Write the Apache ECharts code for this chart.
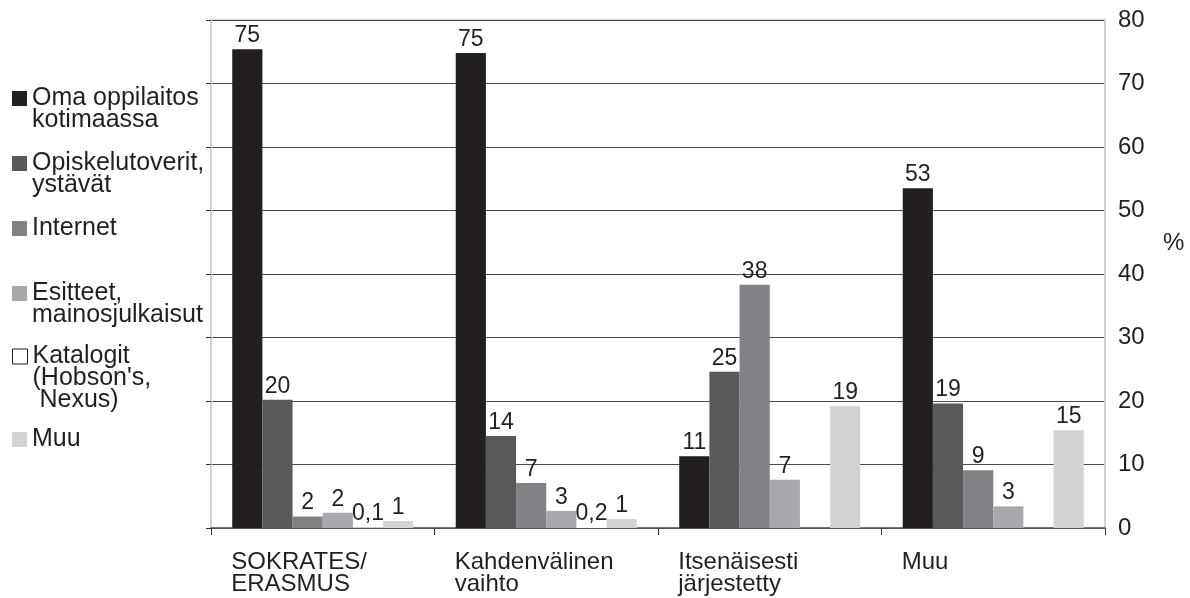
<!DOCTYPE html>
<html>
<head>
<meta charset="utf-8">
<script src="https://cdn.jsdelivr.net/npm/echarts@6/dist/echarts.min.js"></script>
<style>
html,body{margin:0;padding:0;background:#fff;}
#chart{width:1190px;height:598px;}
</style>
</head>
<body>
<div id="chart"></div>
<script>
// ---- data ----
const categories = ['SOKRATES/\nERASMUS', 'Kahdenvälinen\nvaihto', 'Itsenäisesti\njärjestetty', 'Muu'];
const seriesNames = ['Oma oppilaitos\nkotimaassa', 'Opiskelutoverit,\nystävät', 'Internet', 'Esitteet,\nmainosjulkaisut', "Katalogit\n(Hobson's,\n Nexus)", 'Muu'];
const omaOppilaitos   = [75.4, 74.8, 11.3, 53.5];
const opiskelutoverit = [20.2, 14.5, 24.6, 19.6];
const internet        = [1.8, 7.1, 38.3, 9.1];
const esitteet        = [2.4, 2.7, 7.6, 3.4];
const katalogit       = [0.1, 0.2, null, null];
const muu             = [1.1, 1.4, 19.2, 15.4];
const omaLabels   = ['75', '75', '11', '53'];
const opisLabels  = ['20', '14', '25', '19'];
const intLabels   = ['2', '7', '38', '9'];
const esiLabels   = ['2', '3', '7', '3'];
const katLabels   = ['0,1', '0,2', '', ''];
const muuLabels   = ['1', '1', '19', '15'];
const yTicks = [0, 10, 20, 30, 40, 50, 60, 70, 80];

const values = [omaOppilaitos, opiskelutoverit, internet, esitteet, katalogit, muu];
const labels = [omaLabels, opisLabels, intLabels, esiLabels, katLabels, muuLabels];
const colors = ['#231f20', '#58595b', '#808285', '#a7a9ac', '#ffffff', '#d1d3d4'];
const legendCenters = [97, 162, 227, 292, 355, 438];

const FONT = "'Liberation Sans', Arial, sans-serif";
const FS = 24;
const LFS = 25;
const LH = 22;
const SQ = 15;

const chart = echarts.init(document.getElementById('chart'));

const legends = seriesNames.map((name, i) => {
  const n = name.split('\n').length;
  const H = (n - 1) * LH + SQ;
  const icon = n === 1 ? 'rect'
    : 'path://M0,0L' + SQ + ',0L' + SQ + ',' + SQ + 'L0,' + SQ + 'Z M0,' + H;
  return {
    left: 12,
    top: legendCenters[i] - LH / 2,
    orient: 'vertical',
    padding: 0,
    itemWidth: SQ,
    itemHeight: H,
    icon: icon,
    itemStyle: i === 4
      ? { color: '#ffffff', borderColor: '#231f20', borderWidth: 1 }
      : { color: colors[i], borderWidth: 0 },
    selectedMode: false,
    data: [name],
    textStyle: {
      fontFamily: FONT,
      fontSize: LFS,
      lineHeight: LH,
      color: '#231f20'
    }
  };
});

const series = seriesNames.map((name, i) => ({
  name: name,
  type: 'bar',
  yAxisIndex: 0,
  barGap: '0%',
  barCategoryGap: '19%',
  data: values[i],
  itemStyle: { color: colors[i] },
  label: {
    show: true,
    position: 'top',
    distance: 2,
    fontFamily: FONT,
    fontSize: 23,
    color: '#231f20',
    formatter: (p) => labels[i][p.dataIndex]
  }
}));

const option = {
  animation: false,
  backgroundColor: '#ffffff',
  legend: legends,
  grid: {
    left: 211, right: 85, top: 20, bottom: 70,
    show: true, borderColor: '#d2d2d2', borderWidth: 2
  },
  xAxis: {
    type: 'category',
    data: categories,
    axisLine: { lineStyle: { color: '#555555', width: 1.5 } },
    axisTick: { show: true, length: 7, lineStyle: { color: '#333333' } },
    axisLabel: {
      interval: 0,
      margin: 23,
      formatter: (v) => v.split('\n').map(s => '{a|' + s + '}').join('\n'),
      rich: {
        a: { width: 183, align: 'left', fontFamily: FONT, fontSize: FS, lineHeight: LH, color: '#231f20' }
      }
    }
  },
  yAxis: [
    {
      type: 'value', position: 'left', min: yTicks[0], max: yTicks[yTicks.length - 1], interval: 10,
      axisLine: { show: true, lineStyle: { color: '#d2d2d2', width: 2 } },
      axisTick: { show: true, length: 5, lineStyle: { color: '#333333' } },
      axisLabel: { show: false },
      splitLine: { show: true, lineStyle: { color: '#4a4a4a', width: 1.2 } }
    },
    {
      type: 'value', position: 'right', min: yTicks[0], max: yTicks[yTicks.length - 1], interval: 10,
      name: '%', nameLocation: 'middle', nameRotate: 0, nameGap: 58,
      nameTextStyle: { fontFamily: FONT, fontSize: FS, color: '#231f20', verticalAlign: 'bottom', lineHeight: 62 },
      axisLine: { show: true, lineStyle: { color: '#d2d2d2', width: 2 } },
      axisTick: { show: false },
      axisLabel: { margin: 13, fontFamily: FONT, fontSize: FS, color: '#231f20' },
      splitLine: { show: false }
    }
  ],
  series: series
};
chart.setOption(option);
</script>
</body>
</html>
